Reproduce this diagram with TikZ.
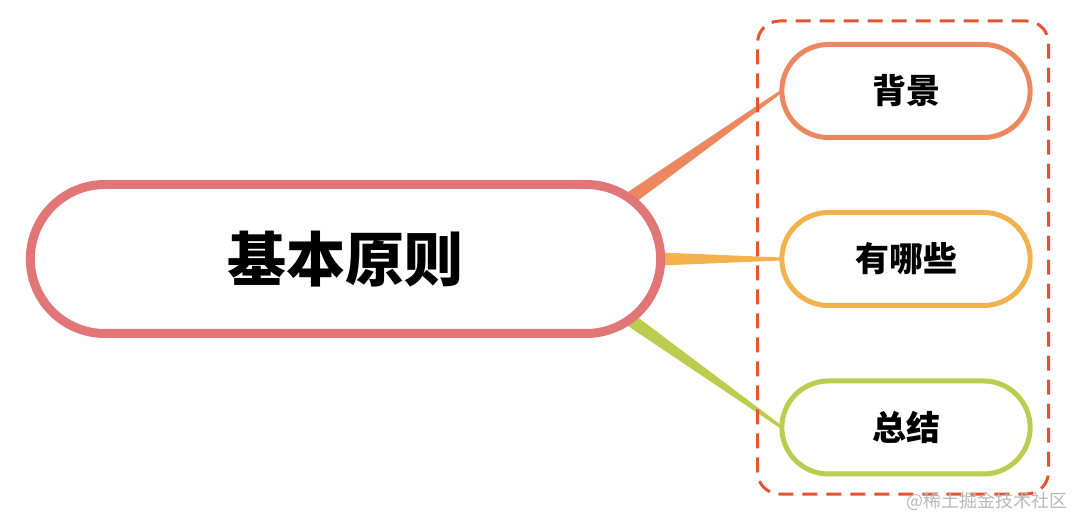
\documentclass[tikz,border=0pt]{standalone}
\usepackage{fontspec}
\newfontfamily\cjk{Noto Sans CJK SC}
\usetikzlibrary{shapes.misc, calc, backgrounds}

\definecolor{mainred}{HTML}{E27576}
\definecolor{orangeA}{HTML}{EC875F}
\definecolor{yellowA}{HTML}{F3B24D}
\definecolor{greenA}{HTML}{BACD4F}
\definecolor{dashred}{HTML}{E8532F}

\tikzset{
	topic/.style = {rounded rectangle, draw = mainred, line width = 9pt, fill = white,
		minimum width = 637pt, minimum height = 149pt, outer sep = 0pt,
		font = \cjk\bfseries\fontsize{59}{59}\selectfont},
	subtopic/.style = {rounded rectangle, draw = #1, line width = 5pt, fill = white,
		minimum width = 255pt, minimum height = 93pt, outer sep = 0pt,
		font = \cjk\bfseries\fontsize{34}{34}\selectfont},
	groupbox/.style = {draw = dashred, line width = 3pt, rounded corners = 22pt,
		dash pattern = on 15pt off 9pt, minimum width = 291pt, minimum height = 473pt},
}

% tapered branch: from, to, colour
\newcommand{\branch}[3]{%
	\fill [#3] ($(#1)!6.5pt!90:(#2)$) -- ($(#2)!1.5pt!-90:(#1)$)
		-- ($(#2)!1.5pt!90:(#1)$) -- ($(#1)!6.5pt!-90:(#2)$) -- cycle;}

\begin{document}
\begin{tikzpicture}[x = 1pt, y = -1pt]
		\useasboundingbox (0,0) rectangle (1080,529);
		
		\node (grp) at (903,257.5) [groupbox] {};
		
		\node (main) at (345.5,259) [topic] {基本原则};
		
		\node (bg) at (906,91) [subtopic = orangeA] {背景};
		\node (list) at (906,259) [subtopic = yellowA] {有哪些};
		\node (sum) at (906,427.5) [subtopic = greenA] {总结};
		
		\begin{pgfonlayer}{background}
		\branch{main.12}{bg.west}{orangeA}
		\branch{main.east}{list.west}{yellowA}
		\branch{main.-12}{sum.west}{greenA}
		\end{pgfonlayer}
		
		\node (mark) at (987,501) [text = black!28, font = \cjk\fontsize{18}{18}\selectfont] {@稀土掘金技术社区};
		\end{tikzpicture}
\end{document}
